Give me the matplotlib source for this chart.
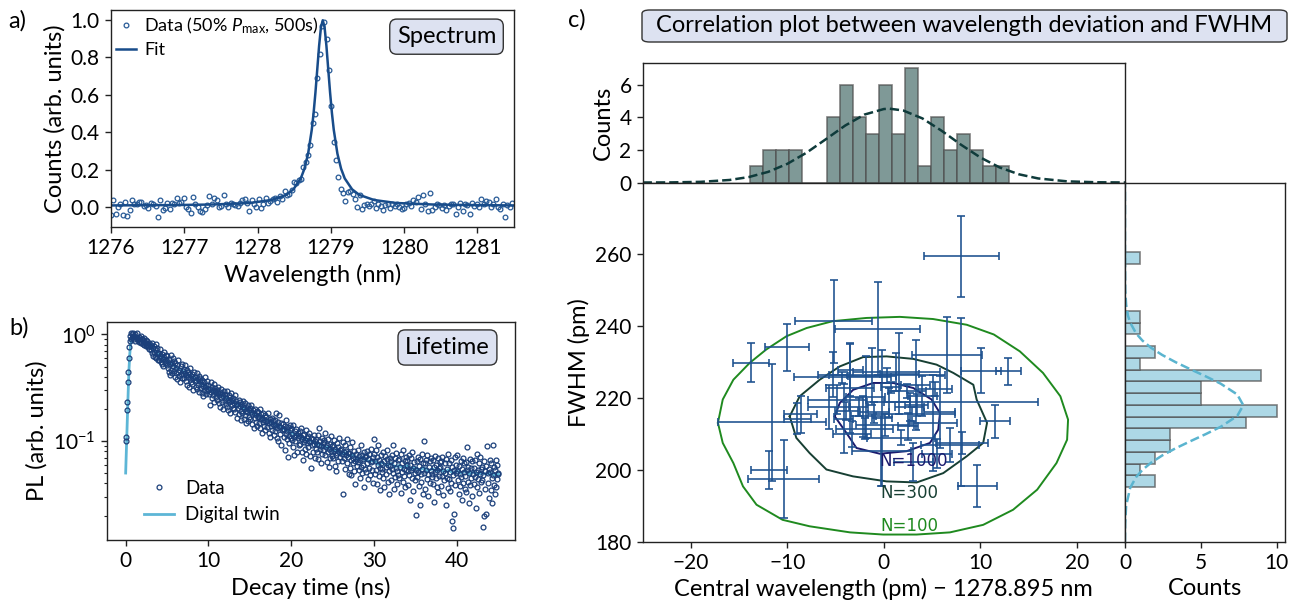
import numpy as np
import matplotlib
matplotlib.use("Agg")
import matplotlib.pyplot as plt
from matplotlib.patches import FancyBboxPatch

plt.rcParams['font.family'] = ['Lato', 'DejaVu Sans']
plt.rcParams['mathtext.fontset'] = 'custom'
plt.rcParams['mathtext.rm'] = 'Lato'
plt.rcParams['mathtext.it'] = 'Lato:italic'
plt.rcParams['mathtext.bf'] = 'Lato:bold'

# ---------------- Panel a: spectrum ----------------
spec_start = 1276.0
spec_step = 0.032
spec_counts = [
    -0.04, 0.04, -0.035, 0.00, 0.015, -0.04, 0.03, -0.045, -0.015, 0.04,
    0.015, 0.02, 0.03, 0.03, 0.005, 0.01, -0.005, 0.025, 0.02, 0.005,
    -0.05, 0.04, -0.015, -0.005, 0.025, -0.01, 0.025, 0.015, 0.05, 0.025,
    0.03, 0.05, 0.0, -0.01, -0.03, 0.055, 0.02, 0.0, -0.02, -0.025,
    -0.01, 0.01, 0.06, 0.015, 0.05, 0.04, 0.0, 0.005, 0.065, 0.015,
    0.0, 0.025, 0.02, 0.01, 0.005, 0.025, 0.04, 0.045, 0.025, -0.02,
    0.04, 0.02, 0.0, 0.045, -0.005, 0.02, 0.05, 0.025, 0.035, 0.045,
    0.05, 0.03, 0.06, 0.045, 0.085, 0.065, 0.07, 0.09, 0.135, 0.13,
    0.145, 0.15, 0.215, 0.24, 0.28, 0.33, 0.45, 0.50, 0.69, 0.82,
    0.97, 0.99, 0.90, 0.73, 0.54, 0.35, 0.25, 0.16, 0.10, 0.076,
    0.032, 0.08, 0.085, 0.07, 0.045, 0.0, 0.065, -0.01, 0.01, 0.02, 0.005,
    0.02, 0.035, -0.005, 0.015, 0.005, -0.015, 0.01, 0.02, -0.005, 0.015,
    0.005, 0.02, 0.0, -0.01, -0.005, 0.015, 0.025, 0.005, 0.04, 0.03,
    0.055, -0.01, 0.065, 0.015, -0.02, 0.075, -0.015, 0.0, 0.015, 0.01,
    -0.005, 0.01, -0.015, 0.005, 0.02, 0.015, -0.035, 0.0, 0.025, -0.02,
    0.015, 0.01, -0.035, 0.025, 0.005, 0.015, 0.0, 0.045, 0.02, 0.035,
    0.03, 0.0, 0.015, 0.045, 0.0, -0.01, 0.02, -0.05, 0.01, 0.0, 0.025,
]
fit_wl = [1276.0, 1276.89, 1277.39, 1277.89, 1278.19, 1278.39, 1278.49, 1278.59,
          1278.64, 1278.69, 1278.74, 1278.765, 1278.79, 1278.815, 1278.84, 1278.865,
          1278.89, 1278.915, 1278.94, 1278.965, 1278.99, 1279.015, 1279.04, 1279.09,
          1279.14, 1279.19, 1279.29, 1279.39, 1279.59, 1279.89, 1280.39, 1280.89, 1281.5]
fit_counts = [0.010, 0.012, 0.015, 0.023, 0.039, 0.066, 0.096, 0.154, 0.206, 0.286,
              0.414, 0.503, 0.612, 0.736, 0.861, 0.960, 0.998, 0.960, 0.861, 0.736,
              0.612, 0.503, 0.414, 0.286, 0.206, 0.154, 0.096, 0.066, 0.039, 0.023,
              0.015, 0.012, 0.010]
spec_xticks = [1276, 1277, 1278, 1279, 1280, 1281]
spec_yticks = [0.0, 0.2, 0.4, 0.6, 0.8, 1.0]

# ---------------- Panel b: lifetime ----------------
decay_step = 0.0625  # ns per time bin
decay_log100 = [  # 100*log10(PL), one row per ns
    -100, -96, -71, -63, -45, -35, -22, -12, -6, -1, -4, 1, 0, -3, 1, -1,
    -1, -4, 0, -6, -2, -3, 1, -5, -4, -7, -2, -3, -6, -1, -8, -4,
    -4, -9, -6, -3, -10, -7, -8, -5, -11, -9, -6, -12, -10, -8, -14, -11,
    -10, -15, -8, -17, -13, -20, -11, -16, -21, -14, -9, -22, -18, -13, -24, -17,
    -17, -24, -20, -14, -26, -22, -28, -18, -23, -30, -21, -16, -27, -24, -19, -29,
    -20, -31, -26, -35, -23, -38, -28, -19, -33, -27, -36, -22, -30, -34, -25, -40,
    -27, -36, -31, -42, -29, -35, -24, -39, -33, -45, -30, -37, -28, -41, -34, -38,
    -32, -41, -36, -29, -44, -38, -47, -33, -40, -35, -49, -37, -42, -31, -45, -39,
    -37, -46, -41, -52, -35, -44, -40, -49, -43, -36, -51, -42, -47, -39, -54, -44,
    -41, -50, -46, -55, -43, -48, -58, -45, -52, -40, -49, -56, -47, -53, -44, -51,
    -47, -56, -51, -66, -45, -54, -49, -60, -52, -57, -46, -63, -53, -50, -59, -55,
    -52, -61, -55, -49, -64, -57, -68, -54, -59, -51, -63, -56, -70, -58, -53, -62,
    -56, -65, -60, -53, -68, -61, -71, -57, -63, -59, -74, -62, -55, -66, -61, -69,
    -60, -70, -64, -57, -73, -66, -62, -78, -65, -69, -61, -75, -67, -63, -72, -80,
    -65, -74, -68, -62, -79, -70, -76, -64, -72, -83, -69, -73, -66, -81, -71, -77,
    -69, -79, -73, -66, -84, -75, -71, -88, -74, -78, -70, -82, -76, -72, -86, -77,
    -73, -83, -77, -70, -88, -79, -75, -92, -78, -82, -74, -86, -80, -76, -90, -81,
    -77, -87, -81, -74, -92, -83, -79, -96, -82, -86, -78, -90, -84, -80, -94, -85,
    -80, -91, -74, -85, -97, -88, -82, -100, -86, -76, -93, -87, -104, -83, -90, -89,
    -84, -96, -89, -108, -86, -93, -80, -98, -91, -115, -87, -95, -102, -90, -85, -97,
    -88, -99, -93, -106, -85, -96, -113, -91, -100, -94, -89, -110, -97, -92, -104, -95,
    -91, -103, -96, -88, -110, -98, -118, -94, -101, -93, -107, -99, -90, -112, -97, -102,
    -95, -106, -100, -92, -114, -101, -125, -97, -104, -98, -110, -103, -94, -116, -100, -107,
    -98, -110, -103, -94, -117, -104, -88, -107, -100, -121, -105, -97, -112, -102, -108, -99,
    -101, -113, -92, -106, -120, -104, -110, -98, -124, -107, -103, -116, -95, -109, -105, -114,
    -104, -116, -109, -99, -123, -107, -113, -128, -102, -111, -106, -119, -110, -97, -115, -108,
    -107, -119, -112, -101, -150, -110, -116, -104, -126, -113, -109, -121, -98, -115, -111, -131,
    -111, -125, -106, -118, -132, -113, -101, -121, -116, -128, -109, -119, -140, -112, -123, -117,
    -120, -108, -127, -114, -135, -118, -104, -124, -113, -130, -117, -122, -110, -143, -115, -126,
    -114, -129, -121, -109, -136, -117, -125, -112, -132, -120, -107, -127, -119, -139, -115, -98,
    -112, -131, -119, -108, -127, -140, -115, -122, -104, -133, -118, -125, -146, -113, -121, -129,
    -126, -110, -135, -119, -143, -114, -124, -131, -117, -108, -138, -122, -128, -150, -116, -123,
    -119, -137, -113, -126, -104, -130, -145, -121, -116, -134, -125, -111, -140, -128, -118, -132,
    -135, -117, -124, -149, -112, -129, -121, -138, -108, -126, -133, -119, -143, -115, -127, -122,
    -118, -128, -141, -113, -132, -122, -155, -116, -127, -135, -110, -125, -147, -120, -130, -137,
    -127, -169, -119, -134, -115, -129, -142, -123, -160, -117, -131, -138, -112, -126, -150, -121,
    -100, -130, -121, -145, -118, -127, -136, -113, -131, -152, -124, -119, -139, -128, -116, -134,
    -131, -118, -140, -124, -157, -129, -114, -135, -122, -143, -127, -116, -148, -125, -133, -120,
    -124, -142, -119, -133, -115, -151, -128, -137, -121, -130, -160, -117, -135, -126, -144, -112,
    -136, -121, -147, -129, -118, -139, -175, -124, -132, -182, -127, -168, -115, -141, -130, -122,
    -128, -113, -137, -150, -123, -131, -142, -119, -134, -126, -155, -116, -139, -129, -121, -145,
    -133, -120, -148, -127, -106, -138, -124, -158, -130, -117, -141, -125, -135, -152, -119, -131,
    -125, -140, -118, -134, -163, -129, -112, -143, -127, -136, -121, -149, -131, -115, -138, -126,
    -137, -124, -181, -132, -119, -170, -128, -145, -168, -123, -105, -139, -130, -153, -126, -118,
    -129, -146, -121, -135, -158, -104, -132, -141, -124, -150, -127, -118, -143, -122, -136, -130,
    -131,
]
twin_t = [0, 0.1, 0.2, 0.3, 0.4, 0.5, 0.6, 0.8, 1.0, 1.5, 2, 3, 4, 5, 6, 7, 8, 9, 10,
          11, 12, 13, 14, 15, 16, 17, 18, 19, 20, 20.5, 21, 21.5, 22, 22.5, 23, 23.5,
          24, 24.5, 25, 25.5, 26, 26.5, 27, 27.5, 28, 28.5, 29, 29.5, 30, 30.5, 31,
          31.5, 32, 32.5, 33, 33.5, 34, 34.5, 35, 35.5, 36, 36.5, 37, 37.5, 38, 38.5,
          39, 39.5, 40, 40.5, 41, 41.5, 42, 42.5, 43, 43.5, 44, 44.5, 45]
twin_log100 = [-130, -105, -80, -55, -33, -18, -9, -4, -3, -3, -5, -12, -19, -25, -30,
               -35, -40, -45, -50, -55, -59, -63, -68, -72, -76, -80, -84, -88, -92,
               -94, -95, -98, -99, -100, -103, -103, -106, -106, -109, -109, -112, -111,
               -114, -113, -117, -115, -118, -119, -118, -122, -120, -123, -121, -124,
               -123, -125, -123, -126, -125, -127, -125, -128, -126, -128, -127, -129,
               -127, -130, -128, -130, -128, -131, -129, -131, -130, -131, -130, -132, -131]
decay_xticks = [0, 10, 20, 30, 40]

# ---------------- Panel c: correlation ----------------
dev_pm = [-13.8, -11.6, -11.9, -10.0, -10.4, -8.6, -9.0, -5.2, -5.7, -5.3, -4.9,
          -4.15, -3.5, -3.5, -3.9, -4.3, -3.3, -2.15, -1.9, -2.6, -2.0, -0.65, -1.2,
          -1.0, -0.25, -0.2, 0.3, 0.5, 0.1, 0.7, 1.6, 1.3, 1.8, 3.3, 2.7, 2.5, 3.05,
          2.9, 3.4, 2.4, 4.0, 5.8, 5.1, 5.5, 5.3, 6.54, 6.9, 8.03, 8.0, 8.1, 10.07,
          9.7, 11.5, 12.9]
fwhm_pm = [229.8, 213.2, 199.9, 234.1, 197.5, 215.5, 214.3, 241.4, 217.4, 226.5, 219.5,
           214.3, 227.8, 222.8, 216.3, 225.8, 210.0, 214.9, 220.3, 217.5, 211.5, 239.3,
           226.0, 216.0, 205.3, 214.5, 226.3, 218.8, 212.5, 223.0, 226.8, 227.3, 209.0,
           223.7, 217.5, 212.1, 202.2, 215.5, 218.0, 222.0, 220.5, 216.1, 213.1, 204.5,
           222.5, 232.0, 207.0, 259.5, 218.9, 207.5, 227.6, 195.5, 213.5, 227.4]
dev_err = [1.85, 5.6, 1.85, 2.28, 3.7, 1.7, 1.4, 4.0, 2.15, 1.5, 3.0,
           1.0, 1.3, 2.5, 1.2, 5.0, 2.0, 1.3, 2.0, 1.0, 3.0, 4.4, 2.5,
           1.5, 3.1, 1.0, 6.0, 2.2, 3.0, 1.0, 2.0, 4.5, 3.5, 1.5, 1.5, 1.0, 2.0,
           4.5, 1.2, 2.0, 1.5, 1.6, 2.5, 1.56, 1.8, 3.63, 3.0, 3.9, 8.0, 2.7, 2.1,
           2.0, 1.56, 1.3]
fwhm_err = [5.4, 16.2, 5.3, 6.6, 10.9, 5.2, 4.2, 11.6, 6.1, 6.2, 4.0,
            9.5, 7.3, 12.5, 2.5, 1.5, 3.5, 5.8, 11.3, 2.5, 3.0, 12.9, 8.0,
            3.0, 9.7, 18.9, 2.0, 4.0, 3.0, 1.5, 11.3, 5.3, 2.0, 12.5, 3.9, 3.7, 5.3,
            2.0, 3.0, 2.0, 5.6, 9.9, 13.4, 4.0, 2.0, 10.6, 4.8, 11.3, 23.4, 3.0, 6.2,
            5.9, 4.5, 3.8]

dev_bin_edges = [-13.9, -12.56, -11.21, -9.87, -8.53, -7.19, -5.85, -4.50, -3.16, -1.82,
                 -0.48, 0.87, 2.21, 3.55, 4.89, 6.24, 7.58, 8.92, 10.27, 11.61, 12.95]
dev_counts = [1, 2, 2, 2, 0, 0, 4, 6, 4, 3, 6, 3, 7, 1, 4, 2, 3, 2, 1, 1]
fwhm_bin_edges = [195.2, 198.47, 201.74, 205.01, 208.28, 211.55, 214.82, 218.09, 221.36,
                  224.63, 227.9, 231.17, 234.44, 237.71, 240.98, 244.25, 247.52, 250.79,
                  254.06, 257.33, 260.6]
fwhm_counts = [2, 1, 2, 3, 3, 8, 10, 5, 5, 9, 1, 2, 0, 1, 1, 0, 0, 0, 0, 1]

dev_gauss_x = [-25, -22, -19, -16, -14, -12, -10, -8, -6, -4, -2, 0, 0.6, 2, 4, 6, 8, 10,
               12, 14, 16, 19, 22, 25]
dev_gauss_y = [0.0015, 0.0089, 0.0416, 0.156, 0.335, 0.651, 1.146, 1.832, 2.656, 3.491,
               4.162, 4.500, 4.52, 4.413, 3.925, 3.166, 2.316, 1.537, 0.925, 0.505, 0.250,
               0.0725, 0.0169, 0.0032]
fwhm_gauss_y = [180, 185, 190, 195, 198, 200, 202, 204, 206, 208, 210, 212, 215, 218, 221,
                224, 226, 228, 230, 232, 234, 236, 238, 241, 243, 246, 250, 260, 280]
fwhm_gauss_x = [0.0015, 0.0126, 0.076, 0.343, 0.734, 1.15, 1.719, 2.45, 3.332, 4.32, 5.345,
                6.31, 7.40, 7.8, 7.40, 6.31, 5.345, 4.32, 3.332, 2.45, 1.719, 1.15, 0.734,
                0.343, 0.194, 0.076, 0.018, 0.0002, 0.0]

n100_x = [-17.2, -16.7, -15.6, -13.9, -12.2, -10.1, -8.0, -5.3, -1.8, 1.66, 5.1, 8.6, 11.4,
          14.1, 16.5, 18.3, 19.1, 19.0, 17.9, 15.9, 13.4, 10.3, 6.85, 3.4, -0.07, -3.5,
          -7.7, -10.5, -13.2, -14.6, -15.6, -16.7, -17.2]
n100_y = [213.1, 219.6, 225.1, 229.8, 233.5, 237.2, 239.5, 241.4, 242.3, 242.6, 242.0,
          240.4, 237.7, 233.0, 227.0, 220.5, 214.0, 208.4, 201.9, 194.5, 188.9, 184.7,
          182.6, 182.0, 182.0, 182.6, 184.3, 186.1, 190.3, 195.4, 201.9, 207.5, 213.1]
n300_x = [-9.76, -8.72, -6.65, -4.57, -2.15, 0.28, 3.05, 5.47, 7.2, 9.28, 9.62, 10.7, 10.3,
          8.6, 6.16, 3.4, 0.28, -3.2, -5.95, -7.7, -9.07, -9.76]
n300_y = [214.9, 220.5, 225.1, 228.8, 231.4, 231.6, 230.9, 229.3, 227.0, 223.7, 219.6,
          213.1, 207.5, 203.8, 199.1, 196.5, 196.8, 198.2, 200.1, 204.7, 208.9, 214.9]
n1000_x = [-5.09, -4.57, -3.18, -1.1, 0.97, 3.05, 4.95, 5.82, 5.64, 4.78, 2.35, -0.42,
           -2.84, -3.88, -5.09]
n1000_y = [214.9, 218.6, 222.3, 224.2, 224.2, 222.8, 219.6, 215.8, 211.2, 207.5, 205.2,
           204.5, 206.1, 210.3, 214.9]
contour_labels = ['N=1000', 'N=300', 'N=100']
contour_label_x = [3.05, 2.63, 2.63]
contour_label_y = [202.4, 193.6, 184.5]

# ---------------- colours ----------------
C_SPEC = '#275a96'
C_FIT = '#184c8a'
C_DECAY = '#1b3f7a'
C_TWIN = '#5db6d6'
C_ERR = '#1f5290'
C_TOPBAR = '#7f9997'
C_RBAR = '#add8e6'
C_BOX = '#dde2f1'
C_N100 = '#1f8a1f'
C_N300 = '#173f33'
C_N1000 = '#1b1b6e'

fig = plt.figure(figsize=(13.01, 6.04), dpi=100)

TICK = 15
LAB = 17

def style(ax):
    for s in ax.spines.values():
        s.set_color('#222222')
        s.set_linewidth(1.0)
    ax.tick_params(labelsize=TICK, width=1.0, length=4.5, color='#222222')

# ---- a ----
ax_a = fig.add_axes([0.0853, 0.6242, 0.3098, 0.3593])
spec_x = spec_start + spec_step * np.arange(len(spec_counts))
ax_a.plot(spec_x, spec_counts, 'o', ms=3.4, mfc='none', mec=C_SPEC, mew=0.9,
          label='Data (50% $P_{\\mathrm{max}}$, 500s)')
ax_a.plot(fit_wl, fit_counts, '-', color=C_FIT, lw=1.8, label='Fit')
ax_a.set_xlim(1276, 1281.5)
ax_a.set_ylim(-0.105, 1.053)
ax_a.set_xticks(spec_xticks)
ax_a.set_yticks(spec_yticks)
ax_a.set_yticklabels([f'{v:.1f}' for v in spec_yticks])
ax_a.set_xlabel('Wavelength (nm)', fontsize=LAB)
ax_a.set_ylabel('Counts (arb. units)', fontsize=LAB)
style(ax_a)
ax_a.legend(loc='upper left', frameon=False, fontsize=13, handlelength=1.1,
            handletextpad=0.45, borderaxespad=0.1, labelspacing=0.35, borderpad=0.2)
ax_a.text(0.8325, 0.877, 'Spectrum', transform=ax_a.transAxes, ha='center', va='center',
          fontsize=17, bbox=dict(boxstyle='round,pad=0.3', fc=C_BOX, ec='#333333', lw=1.0))

# ---- b ----
ax_b = fig.add_axes([0.0822, 0.1060, 0.3136, 0.3609])
decay_t = decay_step * np.arange(len(decay_log100))
decay_pl = 10.0 ** (np.array(decay_log100) / 100.0)
twin_pl = 10.0 ** (np.array(twin_log100) / 100.0)
ax_b.plot(twin_t, twin_pl, '-', color=C_TWIN, lw=2.0, label='Digital twin', zorder=2)
ax_b.plot(decay_t, decay_pl, 'o', ms=3.5, mfc='none', mec=C_DECAY, mew=0.9,
          label='Data', zorder=3)
ax_b.set_yscale('log')
ax_b.set_xlim(-2.26, 47.0)
ax_b.set_ylim(0.0118, 1.31)
ax_b.set_xticks(decay_xticks)
ax_b.set_xlabel('Decay time (ns)', fontsize=LAB)
ax_b.set_ylabel('PL (arb. units)', fontsize=LAB)
style(ax_b)
ax_b.tick_params(which='minor', length=2.5, width=0.8, color='#222222')
h, l = ax_b.get_legend_handles_labels()
ax_b.legend([h[1], h[0]], [l[1], l[0]], loc='lower left', frameon=False, fontsize=13.5,
            handlelength=1.6, handletextpad=0.6, bbox_to_anchor=(0.05, 0.0),
            labelspacing=0.5)
ax_b.text(0.8346, 0.883, 'Lifetime', transform=ax_b.transAxes, ha='center', va='center',
          fontsize=17, bbox=dict(boxstyle='round,pad=0.3', fc=C_BOX, ec='#333333', lw=1.0))

# ---- c: top histogram ----
ax_top = fig.add_axes([0.4940, 0.6978, 0.3707, 0.1974])
ax_top.bar(dev_bin_edges[:-1], dev_counts, width=np.diff(dev_bin_edges), align='edge',
           color=C_TOPBAR, edgecolor=(0.3, 0.3, 0.3, 0.7), lw=1.2)
ax_top.plot(dev_gauss_x, dev_gauss_y, '--', color='#0f3b3b', lw=1.8)
ax_top.set_xlim(-25, 25)
ax_top.set_ylim(0, 7.3)
ax_top.set_yticks([0, 2, 4, 6])
ax_top.set_ylabel('Counts', fontsize=LAB)
style(ax_top)
ax_top.tick_params(bottom=False, labelbottom=False)

# ---- c: main ----
ax_m = fig.add_axes([0.4940, 0.1031, 0.3707, 0.5947])
ax_m.plot(n100_x, n100_y, '-', color=C_N100, lw=1.4, zorder=1)
ax_m.plot(n300_x, n300_y, '-', color=C_N300, lw=1.4, zorder=1)
ax_m.plot(n1000_x, n1000_y, '-', color=C_N1000, lw=1.4, zorder=1)
ax_m.errorbar(dev_pm, fwhm_pm, xerr=dev_err, yerr=fwhm_err, fmt='none', ecolor=C_ERR,
              elinewidth=1.3, capsize=3, capthick=1.3, alpha=0.9, zorder=2)
for txt, tx, ty, col in zip(contour_labels, contour_label_x, contour_label_y,
                            [C_N1000, C_N300, C_N100]):
    ax_m.text(tx, ty, txt, ha='center', va='center', fontsize=12, color=col,
              family='DejaVu Sans', zorder=3)
ax_m.set_xlim(-25, 25)
ax_m.set_ylim(180, 280)
ax_m.set_xticks([-20, -10, 0, 10, 20])
ax_m.set_yticks([180, 200, 220, 240, 260])
ax_m.set_xlabel('Central wavelength (pm) \u2212 1278.895 nm', fontsize=LAB)
ax_m.set_ylabel('FWHM (pm)', fontsize=LAB)
style(ax_m)

# ---- c: right histogram ----
ax_r = fig.add_axes([0.8647, 0.1031, 0.1230, 0.5947])
ax_r.barh(fwhm_bin_edges[:-1], fwhm_counts, height=np.diff(fwhm_bin_edges), align='edge',
          color=C_RBAR, edgecolor=(0.3, 0.3, 0.3, 0.7), lw=1.2)
ax_r.plot(fwhm_gauss_x, fwhm_gauss_y, '--', color='#5ab4cf', lw=1.8)
ax_r.set_ylim(180, 280)
ax_r.set_xlim(0, 10.55)
ax_r.set_xticks([0, 5, 10])
ax_r.set_xlabel('Counts', fontsize=LAB)
style(ax_r)
ax_r.tick_params(left=False, labelleft=False)

# ---- title box and panel letters ----
box = FancyBboxPatch((642 / 1301, 1 - 42 / 604), 645 / 1301, 32 / 604,
                     boxstyle='round,pad=0,rounding_size=0.006', transform=fig.transFigure,
                     fc=C_BOX, ec='#333333', lw=1.0)
fig.patches.append(box)
fig.text(964.5 / 1301, 1 - 26 / 604, 'Correlation plot between wavelength deviation and FWHM',
         ha='center', va='center', fontsize=17)
fig.text(17 / 1301, 1 - 21 / 604, 'a)', ha='center', va='center', fontsize=17)
fig.text(19 / 1301, 1 - 328 / 604, 'b)', ha='center', va='center', fontsize=17)
fig.text(577 / 1301, 1 - 20 / 604, 'c)', ha='center', va='center', fontsize=17)

fig.savefig('out.png', dpi=100)
